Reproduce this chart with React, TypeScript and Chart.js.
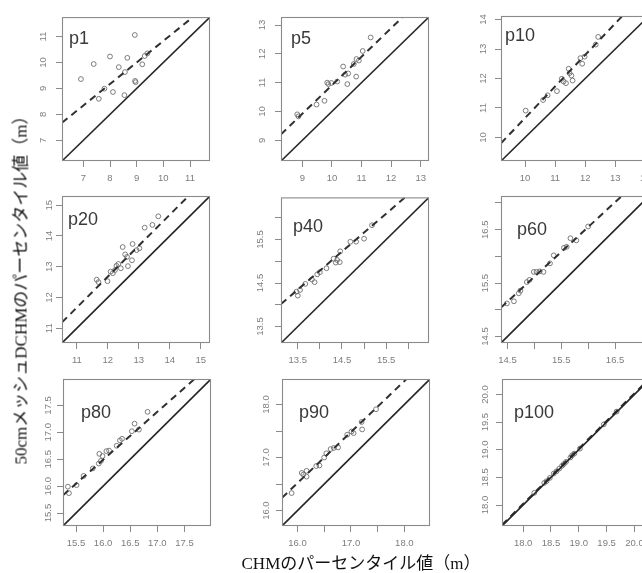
import React, { useEffect, useRef } from "react";
import { Chart, registerables } from "chart.js";

Chart.register(...registerables);

// ---------------- data (CHM percentile vs 50cm-mesh DCHM percentile, m) ----------------
const panelNames = ["p1", "p5", "p10", "p20", "p40", "p60", "p80", "p90", "p100"];

const p1Chm = [6.91, 7.39, 8.0, 8.33, 8.65, 8.93, 8.56, 7.79, 7.58, 8.11, 8.54, 8.94, 8.96, 9.21, 9.3, 9.4];
const p1Dchm = [9.36, 9.94, 10.23, 9.82, 10.18, 11.06, 9.63, 8.99, 8.6, 8.86, 8.74, 9.29, 9.24, 9.93, 10.25, 10.35];

const p5Chm = [8.83, 8.87, 9.48, 9.75, 9.84, 9.88, 9.98, 10.18, 10.38, 10.45, 10.52, 10.55, 10.74, 10.82, 10.83, 10.91, 11.04, 11.31];
const p5Dchm = [9.9, 9.83, 10.24, 10.37, 11.0, 10.95, 10.99, 11.04, 11.56, 11.28, 10.95, 11.32, 11.65, 11.21, 11.82, 11.77, 12.1, 12.57];

const p10Chm = [10.02, 10.6, 10.75, 11.06, 11.22, 11.28, 11.36, 11.45, 11.48, 11.54, 11.58, 11.84, 11.9, 11.98, 12.35, 12.43];
const p10Dchm = [10.91, 11.27, 11.43, 11.57, 11.99, 11.9, 11.84, 12.33, 12.18, 12.1, 11.93, 12.69, 12.5, 12.74, 13.15, 13.41];

const p20Chm = [11.64, 11.7, 11.99, 12.09, 12.16, 12.23, 12.28, 12.34, 12.42, 12.48, 12.56, 12.62, 12.65, 12.78, 12.8, 12.93, 13.02, 13.19, 13.44, 13.63];
const p20Dchm = [12.58, 12.5, 12.53, 12.84, 12.79, 12.89, 13.03, 13.09, 12.95, 13.64, 13.4, 13.32, 13.02, 13.21, 13.74, 13.54, 13.6, 14.27, 14.36, 14.64];

const p40Chm = [13.47, 13.5, 13.55, 13.67, 13.82, 13.88, 13.94, 14.0, 14.15, 14.31, 14.36, 14.39, 14.45, 14.46, 14.69, 14.82, 15.0, 15.18];
const p40Dchm = [14.3, 14.21, 14.34, 14.48, 14.58, 14.52, 14.7, 14.75, 14.84, 15.06, 14.97, 15.03, 14.98, 15.23, 15.45, 15.45, 15.52, 15.83];

const p60Chm = [14.49, 14.62, 14.71, 14.74, 14.86, 14.91, 14.99, 15.04, 15.1, 15.17, 15.29, 15.36, 15.55, 15.6, 15.67, 15.78, 16.0];
const p60Dchm = [15.12, 15.16, 15.31, 15.36, 15.52, 15.56, 15.71, 15.71, 15.72, 15.71, 15.87, 16.02, 16.16, 16.18, 16.34, 16.3, 16.56];

const p80Chm = [15.35, 15.37, 15.51, 15.64, 15.81, 15.92, 15.93, 15.96, 15.99, 16.06, 16.11, 16.25, 16.31, 16.35, 16.53, 16.58, 16.66, 16.82];
const p80Dchm = [15.99, 15.87, 16.02, 16.19, 16.33, 16.42, 16.6, 16.47, 16.56, 16.65, 16.66, 16.75, 16.85, 16.88, 17.02, 17.16, 17.05, 17.38];

const p90Chm = [15.89, 16.08, 16.11, 16.17, 16.17, 16.35, 16.41, 16.5, 16.54, 16.62, 16.68, 16.76, 16.93, 17.01, 17.05, 17.2, 17.21, 17.47];
const p90Dchm = [16.33, 16.71, 16.68, 16.64, 16.75, 16.84, 16.85, 17.0, 17.08, 17.16, 17.18, 17.19, 17.43, 17.49, 17.46, 17.67, 17.53, 17.91];

const p100Chm = [18.2, 18.38, 18.42, 18.48, 18.55, 18.6, 18.65, 18.7, 18.73, 18.77, 18.85, 18.88, 18.92, 19.02, 19.45, 19.68];
const p100Dchm = [18.22, 18.4, 18.43, 18.49, 18.57, 18.61, 18.66, 18.71, 18.74, 18.78, 18.86, 18.9, 18.93, 19.02, 19.46, 19.69];

const chmValues = [p1Chm, p5Chm, p10Chm, p20Chm, p40Chm, p60Chm, p80Chm, p90Chm, p100Chm];
const dchmValues = [p1Dchm, p5Dchm, p10Dchm, p20Dchm, p40Dchm, p60Dchm, p80Dchm, p90Dchm, p100Dchm];

// axis limits (same for x and y in each panel)
const axisMin = [6.2, 8.28, 9.2, 10.52, 13.12, 14.38, 15.26, 15.71, 17.62];
const axisMax = [11.75, 13.28, 14.12, 15.3, 16.47, 17.13, 17.99, 18.48, 20.28];

// regression line (dashed): DCHM = intercept + slope * CHM
const regIntercept = [2.53, 1.01, -0.04, 0.62, 2.55, 1.67, 2.25, 1.16, 0.02];
const regSlope = [0.83, 0.99, 1.07, 1.005, 0.874, 0.93, 0.89, 0.96, 1.0];

// ticks
const tickValues = [
  [7, 8, 9, 10, 11],
  [9, 10, 11, 12, 13],
  [10, 11, 12, 13, 14],
  [11, 12, 13, 14, 15],
  [13.5, 14, 14.5, 15, 15.5, 16],
  [14.5, 15, 15.5, 16, 16.5, 17],
  [15.5, 16, 16.5, 17, 17.5],
  [16, 16.5, 17, 17.5, 18],
  [18, 18.5, 19, 19.5, 20],
];
const tickLabels = [
  ["7", "8", "9", "10", "11"],
  ["9", "10", "11", "12", "13"],
  ["10", "11", "12", "13", "14"],
  ["11", "12", "13", "14", "15"],
  ["13.5", "", "14.5", "", "15.5", ""],
  ["14.5", "", "15.5", "", "16.5", ""],
  ["15.5", "16.0", "16.5", "17.0", "17.5"],
  ["16.0", "", "17.0", "", "18.0"],
  ["18.0", "18.5", "19.0", "19.5", "20.0"],
];

const xTitle = "CHMのパーセンタイル値（m）";
const yTitle = "50cmメッシュDCHMのパーセンタイル値（m）";

// ---------------- layout / style ----------------
const boxLeft = [62, 281, 501, 62, 281, 501, 63, 282, 502];
const boxTop = [14, 14, 14, 196, 196, 196, 379, 379, 379];
const BOX_W = 148;
const BOX_H = 147;
const Y_AXIS_W = 40;
const X_AXIS_H = 35;
const PAD_T = 10;
const PAD_R = 10;
const labelOffset = [
  [7, 14], [10, 14], [4, 12],
  [6, 16], [12, 22], [16, 26],
  [18, 26], [17, 26], [12, 26],
];
const yTickPad = [7.4, 7.3, 6.3, 1, 5.7, 0, -1, 0, 1.5];

const TICK_FONT = { family: '"Liberation Sans", Arial, sans-serif', size: 9.5 };
const TICK_COLOR = "#7d7d7d";
const AXIS_COLOR = "#8a8a8a";

function Panel({ i }: { i: number }) {
  const ref = useRef<HTMLCanvasElement>(null);
  useEffect(() => {
    const canvas = ref.current;
    if (!canvas) return;
    const min = axisMin[i];
    const max = axisMax[i];
    const ticks = tickValues[i];
    const labels = tickLabels[i];
    const setTicks = (scale: any) => {
      scale.ticks = ticks.map((v) => ({ value: v }));
    };
    const fmt = (_v: any, idx: number) => labels[idx];
    const pts = chmValues[i].map((x, k) => ({ x, y: dchmValues[i][k] }));
    const reg = (x: number) => regIntercept[i] + regSlope[i] * x;

    const decor = {
      id: "decor" + i,
      afterDraw(chart: any) {
        const { ctx, chartArea } = chart;
        ctx.save();
        ctx.strokeStyle = AXIS_COLOR;
        ctx.lineWidth = 1.1;
        ctx.strokeRect(chartArea.left + 0.5, chartArea.top + 0.5, chartArea.right - chartArea.left - 1, chartArea.bottom - chartArea.top - 1);
        ctx.fillStyle = "#3a3a3a";
        ctx.font = '18px "Liberation Sans", Arial, sans-serif';
        ctx.textBaseline = "alphabetic";
        ctx.textAlign = "left";
        ctx.fillText(panelNames[i], chartArea.left + labelOffset[i][0], chartArea.top + labelOffset[i][1] + 12.9);
        ctx.restore();
      },
    };

    const chart = new Chart(canvas, {
      type: "scatter",
      data: {
        datasets: [
          {
            data: [{ x: min, y: min }, { x: max, y: max }],
            showLine: true,
            borderColor: "#262626",
            borderWidth: 1.6,
            pointRadius: 0,
            clip: 0,
          } as any,
          {
            data: [{ x: min, y: reg(min) }, { x: max, y: reg(max) }],
            showLine: true,
            borderColor: "#303030",
            borderWidth: 2,
            borderDash: [7, 5],
            pointRadius: 0,
            clip: 0,
          } as any,
          {
            data: pts,
            pointRadius: 2.4,
            pointStyle: "circle",
            borderColor: "#6e6e6e",
            backgroundColor: "rgba(0,0,0,0)",
            borderWidth: 0.9,
          } as any,
        ],
      },
      options: {
        responsive: false,
        animation: false,
        events: [],
        layout: { padding: { top: PAD_T, right: PAD_R, left: 0, bottom: 0 } },
        plugins: { legend: { display: false }, tooltip: { enabled: false } },
        scales: {
          x: {
            type: "linear",
            position: "bottom",
            min,
            max,
            afterBuildTicks: setTicks,
            afterFit: (s: any) => {
              s.height = X_AXIS_H;
            },
            ticks: {
              callback: fmt,
              autoSkip: false,
              minRotation: 0,
              maxRotation: 0,
              padding: 6,
              color: TICK_COLOR,
              font: TICK_FONT,
            },
            grid: { drawOnChartArea: false, drawTicks: true, tickLength: 6, color: AXIS_COLOR, tickColor: AXIS_COLOR, tickWidth: 1 },
            border: { display: false },
          },
          y: {
            type: "linear",
            position: "left",
            min,
            max,
            afterBuildTicks: setTicks,
            afterFit: (s: any) => {
              s.width = Y_AXIS_W;
            },
            ticks: {
              callback: fmt,
              autoSkip: false,
              minRotation: 90,
              maxRotation: 90,
              crossAlign: "center",
              padding: yTickPad[i],
              color: TICK_COLOR,
              font: TICK_FONT,
            },
            grid: { drawOnChartArea: false, drawTicks: true, tickLength: 6, color: AXIS_COLOR, tickColor: AXIS_COLOR, tickWidth: 1 },
            border: { display: false },
          },
        },
      } as any,
      plugins: [decor],
    });
    return () => chart.destroy();
  }, [i]);

  const w = Y_AXIS_W + BOX_W + PAD_R;
  const h = PAD_T + BOX_H + X_AXIS_H;
  return (
    <canvas
      ref={ref}
      width={w}
      height={h}
      style={{ position: "absolute", left: boxLeft[i] - Y_AXIS_W, top: boxTop[i] - PAD_T, width: w, height: h }}
    />
  );
}

export default function App() {
  const titleFont = '"Liberation Serif", "Noto Sans CJK JP", serif';
  return (
    <div
      style={{
        position: "fixed",
        left: 0,
        top: 0,
        width: 642,
        height: 573,
        overflow: "hidden",
        background: "#ffffff",
      }}
    >
      {panelNames.map((_, i) => (
        <Panel key={i} i={i} />
      ))}
      <div
        style={{
          position: "absolute",
          left: 20.5,
          top: 285.5,
          transform: "translate(-50%, -50%) rotate(-90deg)",
          whiteSpace: "nowrap",
          fontFamily: titleFont,
          fontSize: 17,
          lineHeight: 1,
          color: "#111",
        }}
      >
        {yTitle}
      </div>
      <div
        style={{
          position: "absolute",
          left: 361,
          top: 563,
          transform: "translate(-50%, -50%)",
          whiteSpace: "nowrap",
          fontFamily: titleFont,
          fontSize: 17,
          lineHeight: 1,
          color: "#111",
        }}
      >
        {xTitle}
      </div>
    </div>
  );
}
